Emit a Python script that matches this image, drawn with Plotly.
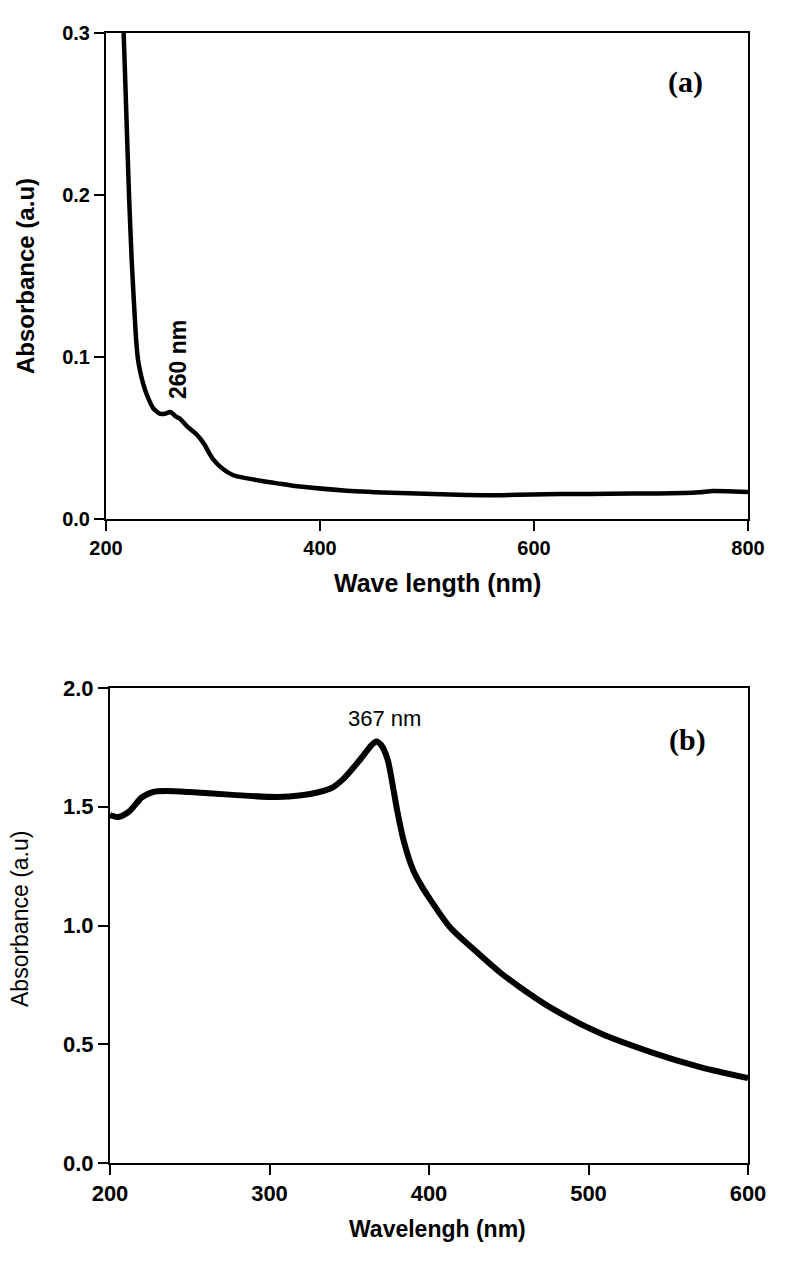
import plotly.graph_objects as go

# Panel (a)
wl_a = [214, 216.5, 219, 221.5, 224, 226, 228, 230, 233, 235, 238, 244, 250, 255, 260, 266, 269,
        276, 285, 292, 297, 300, 309, 319, 325, 341, 350, 360, 381, 425, 475, 537, 570, 599,
        650, 692, 740, 755, 767, 780, 800]
abs_a = [0.34, 0.30, 0.25, 0.20, 0.16, 0.135, 0.112, 0.098, 0.088, 0.083, 0.077, 0.0685, 0.065,
         0.065, 0.066, 0.063, 0.062, 0.057, 0.052, 0.046, 0.040, 0.037, 0.031, 0.027, 0.026,
         0.024, 0.023, 0.022, 0.020, 0.0175, 0.016, 0.0148, 0.0147, 0.0152, 0.0155, 0.0157,
         0.016, 0.0165, 0.0173, 0.0172, 0.0167]

# Panel (b)
wl_b = [200, 205, 212, 220, 227, 235, 250, 277, 305, 320, 330, 340, 346, 352, 357, 361, 364,
        367, 370, 374, 377, 380, 384, 390, 395, 401, 413, 428, 445, 457, 476, 507, 539, 570, 600]
abs_b = [1.465, 1.457, 1.48, 1.54, 1.562, 1.566, 1.562, 1.55, 1.541, 1.548, 1.56, 1.583, 1.615,
         1.66, 1.70, 1.735, 1.76, 1.775, 1.76, 1.70, 1.60, 1.486, 1.36, 1.234, 1.17, 1.107,
         0.994, 0.90, 0.80, 0.74, 0.655, 0.547, 0.467, 0.404, 0.358]

xticks_a = [200, 400, 600, 800]
yticks_a = [0.0, 0.1, 0.2, 0.3]
xticks_b = [200, 300, 400, 500, 600]
yticks_b = [0.0, 0.5, 1.0, 1.5, 2.0]

OFF = 8  # default page body margin
W, H = 787 - OFF, 1269 - OFF
SANS = "Liberation Sans"
SERIF = "Liberation Serif"

fig = go.Figure()
fig.add_trace(go.Scatter(x=wl_a, y=abs_a, mode="lines", line=dict(color="black", width=4.5, shape="spline", smoothing=0.5),
                         xaxis="x", yaxis="y", showlegend=False))
fig.add_trace(go.Scatter(x=wl_b, y=abs_b, mode="lines", line=dict(color="black", width=6, shape="spline", smoothing=0.8),
                         xaxis="x2", yaxis="y2", showlegend=False))

def px(x):
    return (x - OFF) / W

def py(y):
    return 1 - (y - OFF) / H

axis_common = dict(showgrid=False, zeroline=False, showline=True, linecolor="black", linewidth=2,
                   mirror=True, ticks="outside", tickcolor="black", tickwidth=2, ticklen=10,
                   automargin=False)

fig.update_layout(
    width=W, height=H, margin=dict(l=0, r=0, t=0, b=0, pad=0, autoexpand=False),
    paper_bgcolor="white", plot_bgcolor="white",
    xaxis=dict(domain=[px(106), px(748)], range=[200, 800], tickvals=xticks_a,
               tickfont=dict(family=SANS, size=20, color="black", weight="bold"), anchor="y", **axis_common),
    yaxis=dict(domain=[py(519), py(33)], range=[0, 0.3], tickvals=yticks_a, tickformat=".1f",
               tickfont=dict(family=SANS, size=20, color="black", weight="bold"), anchor="x", **axis_common),
    xaxis2=dict(domain=[px(110), px(748)], range=[200, 600], tickvals=xticks_b,
                tickfont=dict(family=SANS, size=22, color="black", weight="bold"), anchor="y2", **axis_common),
    yaxis2=dict(domain=[py(1163), py(688)], range=[0, 2], tickvals=yticks_b, tickformat=".1f",
                tickfont=dict(family=SANS, size=22, color="black", weight="bold"), anchor="x2", **axis_common),
)

ann = [
    dict(text="Absorbance (a.u)", x=px(25), y=py(276), textangle=-90,
         font=dict(family=SANS, size=24, color="black", weight="bold")),
    dict(text="Wave length (nm)", x=px(437), y=py(583),
         font=dict(family=SANS, size=25, color="black", weight="bold")),
    dict(text="260 nm", x=px(178), y=py(360), textangle=-90,
         font=dict(family=SANS, size=23, color="black", weight="bold")),
    dict(text="(a)", x=px(685), y=py(82),
         font=dict(family=SERIF, size=30, color="black", weight="bold")),
    dict(text="Absorbance (a.u)", x=px(20), y=py(919), textangle=-90,
         font=dict(family=SANS, size=23, color="black")),
    dict(text="Wavelengh (nm)", x=px(438), y=py(1229),
         font=dict(family=SANS, size=23, color="black", weight="bold")),
    dict(text="367 nm", x=px(384), y=py(718),
         font=dict(family=SANS, size=22, color="black")),
    dict(text="(b)", x=px(687), y=py(740),
         font=dict(family=SERIF, size=30, color="black", weight="bold")),
]
for a in ann:
    a.update(xref="paper", yref="paper", showarrow=False, xanchor="center", yanchor="middle")
fig.update_layout(annotations=ann)

fig.write_html("out.html")
